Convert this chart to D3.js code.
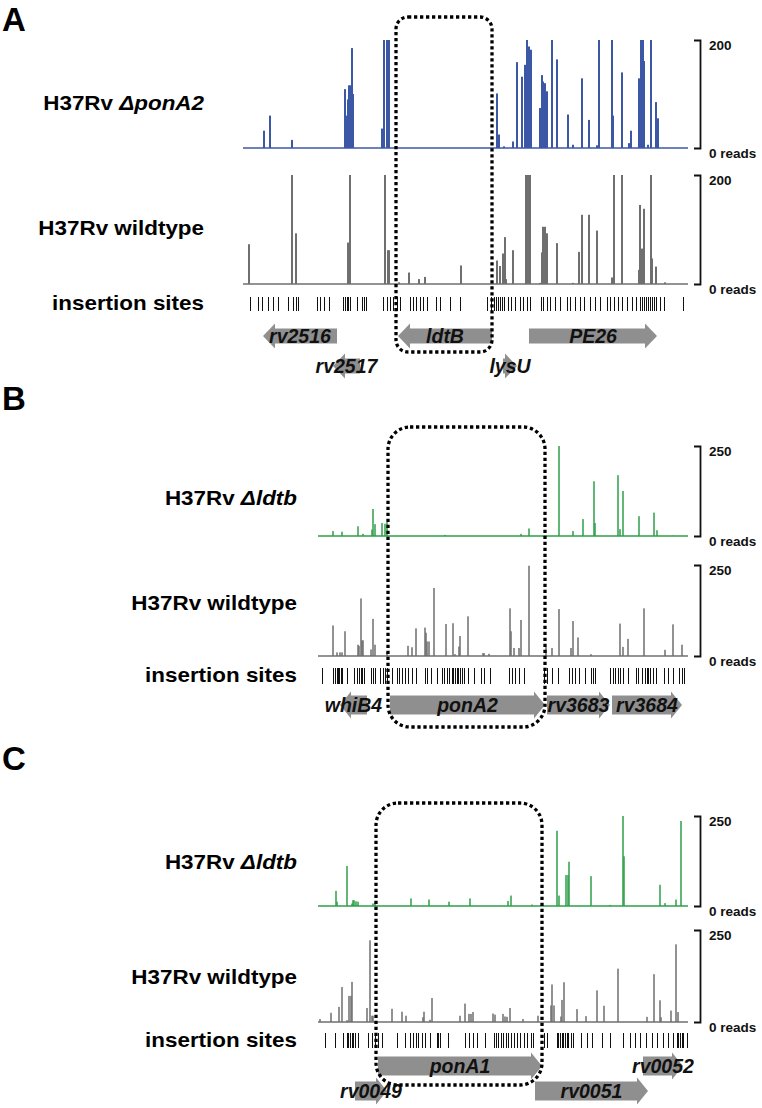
<html>
  <head>
    <meta charset="utf-8"/>
    <style>
      body { margin: 0; background: #fff; }
      text { font-family: "Liberation Sans", Arial, Helvetica, sans-serif; font-weight: bold; }
    </style>
  </head>
  <body>
    <svg></svg>
  </body>
  <script src="https://d3js.org/d3.v7.min.js"></script>
  <script>
  // reads per insertion: [position in window, reads]
  var aMutant = [[21,32],[27,60],[49,15],[102,109],[103,60],[104,40],[105,90],[106,116],[107,116],[109,185],[110,100],[139,36],[141,200],[144,200],[146,200],[254,101],[256,25],[261,3],[270,12],[274,159],[279,132],[282,154],[284,200],[286,188],[288,182],[297,74],[299,135],[300,123],[302,120],[304,105],[309,200],[314,164],[325,62],[330,6],[339,129],[346,52],[354,5],[356,200],[369,200],[370,60],[379,140],[386,9],[388,32],[396,129],[398,200],[400,200],[401,161],[405,6],[408,200],[413,85],[415,55]];
  var aWild = [[6,73],[49,200],[53,93],[105,76],[107,200],[142,200],[145,62],[146,62],[156,3],[166,21],[176,9],[182,13],[218,34],[254,43],[257,33],[260,56],[262,86],[263,9],[270,62],[283,200],[285,200],[287,200],[297,2],[299,58],[300,105],[302,105],[304,93],[314,75],[330,2],[336,59],[339,127],[346,127],[354,98],[369,12],[371,200],[379,200],[396,26],[397,145],[399,65],[401,138],[408,200],[409,47],[413,32],[422,3]];
  var aSites = [7,15,19,25,30,35,45,50,53,55,74,77,81,86,100,102,104,105,107,114,119,121,123,140,144,147,150,154,157,167,170,173,177,180,184,193,197,207,217,244,248,251,253,255,257,259,261,265,268,272,277,280,284,287,298,300,304,307,312,317,324,327,332,337,341,347,352,357,364,367,371,375,379,384,389,393,397,399,401,403,405,407,409,411,413,417,421,440];
  var aGenes = [
    {name:"rv2516", start:20, end:94, strand:-1, row:0},
    {name:"ldtB", start:155, end:249, strand:-1, row:0, boxed:true},
    {name:"PE26", start:286, end:414, strand:1, row:0},
    {name:"rv2517", start:90, end:117, strand:-1, row:1},
    {name:"lysU", start:260, end:274, strand:1, row:1}
  ];

  var bMutant = [[15,14],[24,12],[40,27],[45,6],[54,18],[55,75],[57,33],[64,36],[67,34],[69,39],[127,3],[203,6],[211,21],[241,250],[255,14],[265,47],[276,152],[277,36],[300,169],[302,19],[305,125],[321,55],[336,65],[339,16],[355,1]];
  var bWild = [[15,84],[19,10],[22,10],[24,10],[27,68],[40,31],[41,28],[43,158],[44,43],[45,43],[53,18],[55,102],[57,31],[69,11],[90,28],[94,24],[98,76],[107,78],[108,64],[109,40],[111,40],[116,187],[128,88],[135,90],[137,5],[141,26],[142,55],[150,109],[165,8],[166,8],[171,6],[192,131],[193,68],[196,22],[201,22],[203,99],[211,248],[228,25],[234,22],[241,129],[253,22],[255,96],[260,51],[273,5],[302,89],[305,25],[310,47],[326,131],[347,17],[355,87],[364,31]];
  var bSites = [4,15,17,19,20,21,23,24,29,36,39,41,43,44,46,53,55,57,62,65,67,69,74,79,81,84,87,90,94,98,107,109,113,119,124,126,129,131,134,135,137,139,140,142,144,146,150,156,163,166,172,191,194,197,201,206,226,229,234,240,251,254,257,261,267,273,275,277,292,295,297,300,302,305,310,318,320,324,327,329,330,332,335,338,346,350,355,361,364,366];
  var bGenes = [
    {name:"whiB4", start:22, end:49, strand:-1, row:0},
    {name:"ponA2", start:72, end:227, strand:1, row:0, boxed:true},
    {name:"rv3683", start:229, end:292, strand:1, row:0},
    {name:"rv3684", start:294, end:364, strand:1, row:0}
  ];

  var cMutant = [[18,42],[19,12],[29,111],[34,7],[35,16],[36,16],[38,13],[40,12],[55,7],[57,10],[93,21],[111,18],[131,12],[152,21],[190,14],[193,29],[214,4],[239,209],[241,29],[248,86],[250,86],[251,123],[273,83],[292,3],[305,250],[306,138],[342,59],[347,8],[358,18],[363,236]];
  var cWild = [[2,8],[13,25],[21,41],[24,95],[29,5],[31,71],[33,71],[34,109],[49,38],[52,222],[54,17],[55,17],[74,36],[84,28],[88,17],[105,13],[106,28],[112,6],[114,65],[142,17],[147,50],[151,22],[153,22],[155,27],[175,23],[177,20],[185,22],[187,15],[189,14],[192,38],[205,8],[220,17],[233,45],[234,102],[236,45],[243,15],[244,60],[246,108],[259,35],[268,16],[279,86],[286,44],[300,145],[329,14],[336,130],[342,59],[343,13],[353,31],[358,211],[360,27]];
  var cSites = [7,17,25,29,30,32,34,35,37,40,50,54,57,60,64,79,87,92,95,98,100,104,107,112,119,120,122,130,147,151,155,159,167,176,178,180,183,185,188,190,193,196,199,202,206,209,213,215,226,229,239,240,242,244,245,247,249,250,253,255,263,269,274,284,292,305,312,317,322,328,334,339,345,350,355,359,360,362,364,365,369];
  var cGenes = [
    {name:"ponA1", start:60, end:224, strand:1, row:0, boxed:true},
    {name:"rv0052", start:325, end:365, strand:1, row:0},
    {name:"rv0049", start:37, end:69, strand:1, row:1},
    {name:"rv0051", start:217, end:330, strand:1, row:1}
  ];

  var blue = "#3d57a7", green = "#2f9f49", grey = "#6f6f6f", geneFill = "#8f8f8f";

  var panels = [
    {letter:"A", letterY:31, x0:243, x1:688, len:445, labelX:204,
     tracks:[{data:aMutant, color:blue, top:40, base:148, max:200, name:["H37Rv ","ΔponA2"], labelY:110, bw:2},
             {data:aWild, color:grey, top:175, base:284, max:200, name:["H37Rv wildtype"], labelY:235, bw:2}],
     sites:aSites, sitesTop:297, sitesBottom:311, sitesLabelY:310,
     genes:aGenes, rows:[336,366], body:15, head:25, headLen:12,
     boxTop:17, boxBottom:352, boxR:12},
    {letter:"B", letterY:410, x0:318, x1:688, len:370, labelX:297,
     tracks:[{data:bMutant, color:green, top:446, base:536, max:250, name:["H37Rv ","Δldtb"], labelY:505, bw:1.5},
             {data:bWild, color:grey, top:565, base:656, max:250, name:["H37Rv wildtype"], labelY:610, bw:1.5}],
     sites:bSites, sitesTop:668, sitesBottom:684, sitesLabelY:682,
     genes:bGenes, rows:[705], body:19, head:27, headLen:11,
     boxTop:427, boxBottom:727, boxR:22},
    {letter:"C", letterY:770, x0:318, x1:688, len:370, labelX:297,
     tracks:[{data:cMutant, color:green, top:816, base:906, max:250, name:["H37Rv ","Δldtb"], labelY:869, bw:1.5},
             {data:cWild, color:grey, top:930, base:1022, max:250, name:["H37Rv wildtype"], labelY:984, bw:1.5}],
     sites:cSites, sitesTop:1033, sitesBottom:1048, sitesLabelY:1047,
     genes:cGenes, rows:[1066,1091], body:19, head:27, headLen:11,
     boxTop:803, boxBottom:1085, boxR:22}
  ];

  var svg = d3.select("svg").attr("width", 762).attr("height", 1108);
  svg.append("rect").attr("width", 762).attr("height", 1108).attr("fill", "#fff");

  function leftLabel(g, p, y, parts) {
    var t = g.append("g")
      .attr("transform", "translate(" + p.labelX + "," + y + ") scale(1.15,1)")
      .append("text")
      .attr("text-anchor", "end")
      .attr("font-size", 19.5)
      .attr("fill", "#000");
    parts.forEach(function(s, i) {
      t.append("tspan").attr("font-style", i == 1 ? "italic" : "normal").text(s);
    });
  }

  function arrow(x, g, cy, p) {
    var a = x(g.start), b = x(g.end), h = p.headLen, bh = p.body / 2, hh = p.head / 2;
    var pts;
    if (g.strand > 0) {
      pts = [[a,cy-bh],[b-h,cy-bh],[b-h,cy-hh],[b,cy],[b-h,cy+hh],[b-h,cy+bh],[a,cy+bh]];
    } else {
      pts = [[b,cy-bh],[a+h,cy-bh],[a+h,cy-hh],[a,cy],[a+h,cy+hh],[a+h,cy+bh],[b,cy+bh]];
    }
    return d3.line()(pts) + "Z";
  }

  panels.forEach(function(p) {
    var g = svg.append("g");
    var x = d3.scaleLinear().domain([0, p.len]).range([p.x0, p.x1]);

    g.append("text").attr("x", 2).attr("y", p.letterY)
      .attr("font-size", 33).text(p.letter);

    p.tracks.forEach(function(tr) {
      var y = d3.scaleLinear().domain([0, tr.max]).range([tr.base, tr.top]);

      g.append("line")
        .attr("x1", x(0)).attr("x2", x(p.len))
        .attr("y1", y(0)).attr("y2", y(0))
        .attr("stroke", tr.color).attr("stroke-width", 1.4);

      g.selectAll(null).data(tr.data).enter().append("rect")
        .attr("x", function(d) { return x(d[0]) - tr.bw / 2; })
        .attr("width", tr.bw)
        .attr("y", function(d) { return y(d[1]); })
        .attr("height", function(d) { return y(0) - y(d[1]); })
        .attr("fill", tr.color);

      var ax = g.append("g")
        .attr("transform", "translate(" + (p.x1 + 12) + ",0)")
        .call(d3.axisRight(y).tickValues([0, tr.max]).tickSize(0).tickSizeOuter(-6).tickPadding(9)
          .tickFormat(function(d) { return d === 0 ? "0 reads" : d; }));
      ax.select(".domain").attr("stroke", "#111").attr("stroke-width", 1.8);
      ax.selectAll("text").attr("font-size", 13.5).attr("font-family", null)
        .attr("fill", "#111").attr("dy", "0.72em");

      leftLabel(g, p, tr.labelY, tr.name);
    });

    // insertion sites, snapped to whole pixels so they stay crisp
    g.selectAll(null).data(p.sites).enter().append("line")
      .attr("x1", function(d) { return Math.round(x(d)) + 0.5; })
      .attr("x2", function(d) { return Math.round(x(d)) + 0.5; })
      .attr("y1", p.sitesTop).attr("y2", p.sitesBottom)
      .attr("stroke", "#111").attr("stroke-width", 1);
    leftLabel(g, p, p.sitesLabelY, ["insertion sites"]);

    p.genes.forEach(function(ge) {
      var cy = p.rows[ge.row];
      g.append("path").attr("d", arrow(x, ge, cy, p)).attr("fill", geneFill);
    });
    p.genes.forEach(function(ge) {
      var cy = p.rows[ge.row];
      g.append("text")
        .attr("x", (x(ge.start) + x(ge.end)) / 2).attr("y", cy + 7)
        .attr("text-anchor", "middle").attr("font-size", 19.5).attr("font-style", "italic")
        .attr("fill", "#111").text(ge.name);
    });

    var boxed = p.genes.filter(function(d) { return d.boxed; })[0];
    g.append("rect")
      .attr("x", x(boxed.start) - 2).attr("width", x(boxed.end) - x(boxed.start) + 2)
      .attr("y", p.boxTop).attr("height", p.boxBottom - p.boxTop)
      .attr("rx", p.boxR).attr("ry", p.boxR)
      .attr("fill", "none").attr("stroke", "#000")
      .attr("stroke-width", 3.3).attr("stroke-dasharray", "3.3,2.7");
  });
  </script>
</html>
